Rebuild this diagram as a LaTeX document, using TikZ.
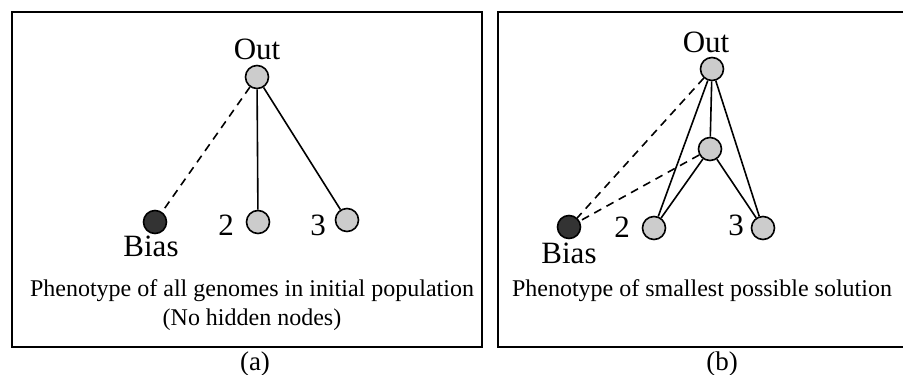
\documentclass[tikz,border=0pt]{standalone}
\usepackage{xcolor}
\usepackage{fontspec}
\setmainfont{Liberation Serif}
\usepackage{tikz}
\definecolor{nodegray}{gray}{0.8}
\definecolor{biasgray}{gray}{0.2}

\begin{document}
\begin{tikzpicture}[x=1pt, y=-1pt,
  neuron/.style={circle, minimum size=23pt, inner sep=0pt, line width=1.6pt, draw, fill=nodegray},
  biasneuron/.style={neuron, fill=biasgray},
  lbl/.style={inner sep=0pt, font=\fontsize{31}{36}\selectfont},
  link/.style={line width=1.6pt},
  biaslink/.style={line width=1.6pt, dash pattern=on 8pt off 6pt},
  caption/.style={inner sep=0pt, align=center, font=\fontsize{24}{29}\selectfont}]
 \useasboundingbox (0,0) rectangle (903,375);
 \draw [line width=2.2pt] (12,12) rectangle (482,347);
 \draw [line width=2.2pt] (903,12) -| (498,347) -- (903,347);
 % (a) initial population
 \node [neuron] (outA) at (257,77) {};
 \node [biasneuron, below of=outA, node distance=145pt, xshift=-102pt] (biasA)  {};
 \node [neuron,     below of=outA, node distance=145pt, xshift=1pt]    (twoA)   {};
 \node [neuron,     below of=outA, node distance=143pt, xshift=90pt]   (threeA) {};
 \node [lbl, above of=outA,   node distance=18pt, anchor=base]                (outAlbl)   {Out};
 \node [lbl, below of=biasA,  node distance=34pt, xshift=-4pt, anchor=base]   (biasAlbl)  {Bias};
 \node [lbl, left of=twoA,    node distance=32pt, yshift=-13pt, anchor=base]  (twoAlbl)   {2};
 \node [lbl, left of=threeA,  node distance=29pt, yshift=-15pt, anchor=base]  (threeAlbl) {3};
  \draw [biaslink] (outA) -- (biasA);
  \draw [link] (outA) -- (twoA);
  \draw [link] (outA) -- (threeA);
 % base of a two-line node is the last line
 \node [caption, anchor=base] (capA) at (252,325) {Phenotype of all genomes in initial population\\(No hidden nodes)};
 \node [inner sep=0pt, anchor=base, font=\fontsize{27}{32}\selectfont] (tagA) at (255,370) {(a)};
 % (b) smallest solution
 \node [neuron] (outB) at (712,69) {};
 \node [neuron,     below of=outB, node distance=80pt,  xshift=-2pt]   (hidB)   {};
 \node [biasneuron, below of=outB, node distance=158pt, xshift=-143pt] (biasB)  {};
 \node [neuron,     below of=outB, node distance=159pt, xshift=-58pt]  (twoB)   {};
 \node [neuron,     below of=outB, node distance=159pt, xshift=51pt]   (threeB) {};
 \node [lbl, above of=outB,   node distance=17pt, xshift=-6pt, anchor=base]   (outBlbl)   {Out};
 \node [lbl, below of=biasB,  node distance=36pt, anchor=base]                (biasBlbl)  {Bias};
 \node [lbl, left of=twoB,    node distance=32pt, yshift=-9pt, anchor=base]   (twoBlbl)   {2};
 \node [lbl, left of=threeB,  node distance=27pt, yshift=-7pt, anchor=base]   (threeBlbl) {3};
  \draw [biaslink] (outB) -- (biasB);
  \draw [biaslink] (hidB) -- (biasB);
  \draw [link] (outB) -- (hidB);
  \draw [link] (outB) -- (twoB);
  \draw [link] (outB) -- (threeB);
  \draw [link] (hidB) -- (twoB);
  \draw [link] (hidB) -- (threeB);
 \node [caption, anchor=base] (capB) at (702,296) {Phenotype of smallest possible solution};
 \node [inner sep=0pt, anchor=base, font=\fontsize{27}{32}\selectfont] (tagB) at (722,370) {(b)};
\end{tikzpicture}
\end{document}
